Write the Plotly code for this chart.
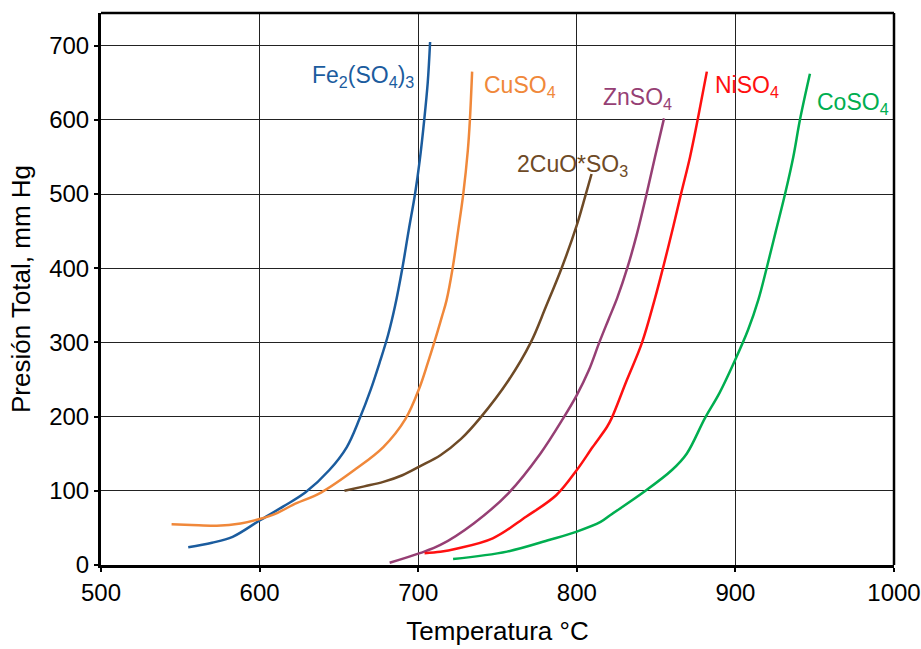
import plotly.graph_objects as go

# Total decomposition pressure (mm Hg) versus temperature (°C) for several sulfates
fe_t = [555, 570, 583, 600, 615, 629, 644, 655, 663, 670, 676, 681, 685.5, 690, 694, 698, 701, 703.8, 706, 707.5]
fe_p = [24, 30, 38, 60, 79, 98, 128, 159, 197, 236, 275, 310, 350, 400, 451, 500, 546, 600, 650, 705]

cu_t = [544.5, 557, 573, 588, 600, 611, 621, 639, 661, 678, 692, 701, 706, 711, 715, 717.9, 721.7, 725.2, 728.4, 731.3, 732.6, 734]
cu_p = [55, 54, 53, 56, 62, 70, 81, 98, 130, 159, 197, 240, 272, 306, 335, 357, 400, 451, 500, 559, 600, 665]

cuo_t = [653.5, 666, 678, 690, 701, 714, 727, 739, 757, 771, 780.5, 790.4, 800, 805.7, 809.3]
cuo_p = [100, 106, 112, 121, 133, 148, 170, 198, 249, 300, 348, 400, 458, 500, 527]

zn_t = [682, 701, 714, 735, 757, 777, 791.5, 800, 807.5, 814.2, 820, 825.5, 831.8, 838, 844, 849.3, 855]
zn_p = [3, 16, 27, 56, 97, 150, 198, 229, 262, 300, 331, 360, 400, 447, 500, 550, 602]

ni_t = [704, 714, 724, 747, 768, 787, 800, 810, 819, 822, 831.5, 841, 849, 854.3, 860.8, 865.7, 871.4, 876.2, 882]
ni_p = [16, 18, 22, 36, 65, 94, 128, 159, 186, 198, 249, 299, 357, 400, 456, 500, 550, 600, 665]

co_t = [722, 756, 783, 800, 815, 821, 842, 860, 869.3, 880.8, 890, 900.4, 908, 914.4, 919.7, 925.5, 931.3, 936.5, 940.7, 947]
co_p = [8, 18, 34, 45, 58, 67, 98, 128, 150, 198, 232, 279, 317, 357, 400, 450, 500, 550, 600, 662]

series_names = ["Fe<sub>2</sub>(SO<sub>4</sub>)<sub>3</sub>", "CuSO<sub>4</sub>",
                "2CuO*SO<sub>3</sub>", "ZnSO<sub>4</sub>", "NiSO<sub>4</sub>", "CoSO<sub>4</sub>"]
series_colors = ["#1B5C9E", "#F0883A", "#6E4A26", "#963F74", "#FF1010", "#00AE50"]
series_data = [(fe_t, fe_p), (cu_t, cu_p), (cuo_t, cuo_p), (zn_t, zn_p), (ni_t, ni_p), (co_t, co_p)]

# Curve labels placed next to the upper end of each curve
label_x = [665, 764, 797, 838, 907, 974]
label_y = [658, 645, 539, 629, 645, 622]

x_ticks = [500, 600, 700, 800, 900, 1000]
y_ticks = [0, 100, 200, 300, 400, 500, 600, 700]

FONT = "Liberation Sans, Arial, sans-serif"

fig = go.Figure()
for (t, p), name, color in zip(series_data, series_names, series_colors):
    fig.add_trace(go.Scatter(
        x=t, y=p, mode="lines", name=name,
        line=dict(color=color, width=2.5, shape="spline", smoothing=1.0),
        showlegend=False,
    ))

for name, color, lx, ly in zip(series_names, series_colors, label_x, label_y):
    fig.add_annotation(x=lx, y=ly, text=name, showarrow=False,
                       font=dict(family=FONT, size=23, color=color),
                       xanchor="center", yanchor="middle")

axis_common = dict(
    showline=True, linecolor="black", linewidth=3, mirror=False,
    showgrid=True, gridcolor="#222222", gridwidth=1.3,
    ticks="outside", ticklen=4, tickwidth=1.5, tickcolor="black",
    tickfont=dict(family=FONT, size=24, color="black"),
    zeroline=False, automargin=False,
)

fig.update_xaxes(range=[500, 1000], tickvals=x_ticks,
                 title=dict(text="Temperatura °C", font=dict(family=FONT, size=26, color="black"), standoff=18),
                 **axis_common)
fig.update_yaxes(range=[0, 744], tickvals=y_ticks,
                 title=dict(text="Presión Total, mm Hg", font=dict(family=FONT, size=26, color="black"), standoff=12),
                 **axis_common)

# Thinner frame on the top and right sides
fig.add_shape(type="line", xref="paper", yref="paper", x0=0, x1=1, y0=1, y1=1,
              line=dict(color="black", width=2.5))
fig.add_shape(type="line", xref="paper", yref="paper", x0=1, x1=1, y0=0, y1=1,
              line=dict(color="black", width=2.5))

fig.update_layout(
    width=921, height=649,
    margin=dict(l=101, r=27, t=13, b=84),
    paper_bgcolor="white", plot_bgcolor="white",
    font=dict(family=FONT, color="black"),
)

fig.write_html("out.html")
